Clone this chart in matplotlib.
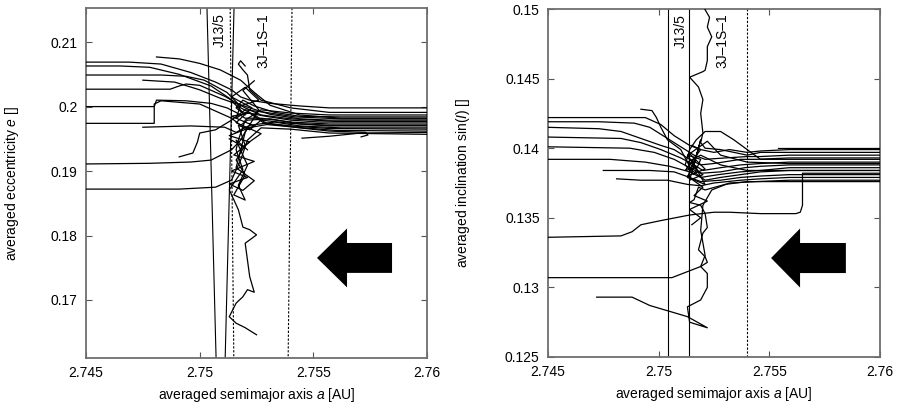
import matplotlib
matplotlib.use("Agg")
import matplotlib.pyplot as plt
import numpy as np

plt.rcParams["font.family"] = ["Liberation Sans", "DejaVu Sans"]
plt.rcParams["font.size"] = 10
plt.rcParams["mathtext.fontset"] = "custom"
plt.rcParams["mathtext.it"] = "Liberation Sans:italic"
plt.rcParams["mathtext.rm"] = "Liberation Sans"

# ---- left panel: averaged a vs averaged e (each track listed right -> left)
ecc_01 = [(2.7600, 0.1998), (2.7557, 0.1998), (2.7544, 0.2001), (2.7531, 0.2005),
          (2.7522, 0.2010), (2.7518, 0.2015), (2.7514, 0.2026), (2.7507, 0.2038),
          (2.7496, 0.2053), (2.7483, 0.2066), (2.7469, 0.2069), (2.7450, 0.2069)]
ecc_02 = [(2.7600, 0.1984), (2.7562, 0.1984), (2.7544, 0.1985), (2.7533, 0.1991),
          (2.7524, 0.2001), (2.7519, 0.2010), (2.7516, 0.1998), (2.7520, 0.1987),
          (2.7513, 0.2013), (2.7505, 0.2032), (2.7491, 0.2050), (2.7478, 0.2061),
          (2.7465, 0.2063), (2.7450, 0.2063)]
ecc_03 = [(2.7600, 0.1979), (2.7557, 0.1979), (2.7544, 0.1981), (2.7531, 0.1988),
          (2.7522, 0.1998), (2.7517, 0.2004), (2.7512, 0.2022), (2.7502, 0.2041),
          (2.7494, 0.2047), (2.7483, 0.2049), (2.7450, 0.2049)]
ecc_04 = [(2.7600, 0.1976), (2.7553, 0.1976), (2.7540, 0.1979), (2.7529, 0.1985),
          (2.7520, 0.1991), (2.7516, 0.1982), (2.7518, 0.2002), (2.7511, 0.2016),
          (2.7500, 0.2033), (2.7494, 0.2035), (2.7491, 0.2032), (2.7487, 0.2027),
          (2.7450, 0.2027)]
ecc_05 = [(2.7600, 0.1973), (2.7557, 0.1973), (2.7540, 0.1976), (2.7527, 0.1982),
          (2.7520, 0.1982), (2.7516, 0.1991), (2.7512, 0.1998), (2.7505, 0.2005),
          (2.7494, 0.2009), (2.7481, 0.2010), (2.7480, 0.2000), (2.7450, 0.2000)]
ecc_06 = [(2.7600, 0.1970), (2.7557, 0.1970), (2.7544, 0.1973), (2.7531, 0.1981),
          (2.7521, 0.1979), (2.7518, 0.1971), (2.7514, 0.1982), (2.7500, 0.2004),
          (2.7483, 0.2009), (2.7480, 0.2004), (2.7480, 0.1974), (2.7465, 0.1974),
          (2.7450, 0.1974)]
ecc_07 = [(2.7600, 0.1967), (2.7562, 0.1967), (2.7544, 0.1970), (2.7533, 0.1976),
          (2.7522, 0.1971), (2.7516, 0.1960), (2.7511, 0.1968), (2.7496, 0.1970),
          (2.7475, 0.1968)]
ecc_08 = [(2.7571, 0.1953), (2.7574, 0.1956), (2.7573, 0.1960), (2.7557, 0.1962),
          (2.7544, 0.1967), (2.7531, 0.1973), (2.7521, 0.1967), (2.7518, 0.1948),
          (2.7514, 0.1933), (2.7505, 0.1917), (2.7496, 0.1914), (2.7478, 0.1912),
          (2.7450, 0.1911)]
ecc_09 = [(2.7600, 0.1960), (2.7571, 0.1959), (2.7557, 0.1954), (2.7545, 0.1951)]
ecc_10 = [(2.7600, 0.1957), (2.7557, 0.1959), (2.7540, 0.1965), (2.7527, 0.1967),
          (2.7521, 0.1948), (2.7518, 0.1917), (2.7514, 0.1886), (2.7507, 0.1875),
          (2.7491, 0.1872), (2.7450, 0.1872)]
ecc_11 = [(2.7600, 0.1987), (2.7557, 0.1987), (2.7540, 0.1990), (2.7527, 0.1995),
          (2.7520, 0.1979), (2.7517, 0.1948), (2.7516, 0.1933), (2.7519, 0.1902),
          (2.7513, 0.1871), (2.7517, 0.1840), (2.7519, 0.1813), (2.7522, 0.1809),
          (2.7525, 0.1801), (2.7520, 0.1788), (2.7521, 0.1762), (2.7522, 0.1736),
          (2.7524, 0.1712), (2.7521, 0.1716), (2.7519, 0.1705), (2.7516, 0.1695),
          (2.7513, 0.1674), (2.7516, 0.1664), (2.7520, 0.1657), (2.7525, 0.1646)]
ecc_12 = [(2.7600, 0.1982), (2.7562, 0.1982), (2.7544, 0.1987), (2.7531, 0.2002),
          (2.7524, 0.2022), (2.7518, 0.2041), (2.7509, 0.2057), (2.7500, 0.2067),
          (2.7491, 0.2074), (2.7481, 0.2077)]
ecc_13 = [(2.7600, 0.1991), (2.7557, 0.1991), (2.7540, 0.1998), (2.7527, 0.2010),
          (2.7522, 0.2026), (2.7521, 0.2049), (2.7519, 0.2057), (2.7517, 0.2066),
          (2.7518, 0.2071), (2.7520, 0.2063)]
ecc_14 = [(2.7600, 0.1981), (2.7562, 0.1981), (2.7542, 0.1984), (2.7529, 0.1991),
          (2.7520, 0.1995), (2.7514, 0.1979), (2.7507, 0.1964), (2.7500, 0.1959),
          (2.7499, 0.1945), (2.7497, 0.1928), (2.7491, 0.1922)]
ecc_15 = [(2.7600, 0.1977), (2.7560, 0.1977), (2.7540, 0.1981), (2.7527, 0.1987),
          (2.7520, 0.1998), (2.7518, 0.2002), (2.7509, 0.2013), (2.7500, 0.2026),
          (2.7489, 0.2038), (2.7475, 0.2041)]
ecc_16 = [(2.7600, 0.1971), (2.7557, 0.1971), (2.7540, 0.1974), (2.7527, 0.1979),
          (2.7522, 0.1964), (2.7517, 0.1971), (2.7520, 0.1940), (2.7516, 0.1917),
          (2.7520, 0.1894), (2.7515, 0.1863), (2.7520, 0.1855), (2.7517, 0.1878),
          (2.7521, 0.1909), (2.7516, 0.1948), (2.7521, 0.1933)]
ecc_17 = [(2.7600, 0.1965), (2.7557, 0.1966), (2.7540, 0.1970), (2.7528, 0.1975),
          (2.7522, 0.1990), (2.7514, 0.1985), (2.7524, 0.1970), (2.7513, 0.1955),
          (2.7522, 0.1945), (2.7515, 0.1925), (2.7524, 0.1915), (2.7514, 0.1900),
          (2.7521, 0.1890), (2.7513, 0.1880), (2.7519, 0.1870), (2.7524, 0.1885),
          (2.7516, 0.1905), (2.7520, 0.1960), (2.7526, 0.1995), (2.7519, 0.2025),
          (2.7524, 0.2040)]
ecc_18 = [(2.7600, 0.1962), (2.7560, 0.1963), (2.7542, 0.1968), (2.7530, 0.1972),
          (2.7525, 0.1985), (2.7517, 0.2000), (2.7526, 0.2010), (2.7520, 0.2030),
          (2.7514, 0.2015), (2.7523, 0.1998), (2.7516, 0.1975), (2.7527, 0.1958),
          (2.7519, 0.1938), (2.7513, 0.1950)]

# ---- right panel: averaged a vs averaged sin(I)
inc_01 = [(2.7600, 0.1399), (2.7559, 0.1399), (2.7546, 0.1398), (2.7540, 0.1397),
          (2.7532, 0.1399), (2.7525, 0.1397), (2.7519, 0.1399), (2.7514, 0.1402),
          (2.7507, 0.1409), (2.7501, 0.1417), (2.7494, 0.1422), (2.7483, 0.1422),
          (2.7450, 0.1422)]
inc_02 = [(2.7600, 0.1395), (2.7559, 0.1395), (2.7546, 0.1394), (2.7540, 0.1394),
          (2.7530, 0.1393), (2.7521, 0.1392), (2.7516, 0.1395), (2.7512, 0.1399),
          (2.7504, 0.1407), (2.7496, 0.1415), (2.7489, 0.1418), (2.7473, 0.1419),
          (2.7450, 0.1419)]
inc_03 = [(2.7600, 0.1393), (2.7559, 0.1393), (2.7544, 0.1392), (2.7537, 0.1392),
          (2.7525, 0.1389), (2.7519, 0.1388), (2.7514, 0.1392), (2.7507, 0.1399),
          (2.7501, 0.1402), (2.7492, 0.1407), (2.7483, 0.1412), (2.7473, 0.1414),
          (2.7450, 0.1415)]
inc_04 = [(2.7600, 0.1390), (2.7559, 0.1390), (2.7546, 0.1389), (2.7537, 0.1388),
          (2.7528, 0.1386), (2.7520, 0.1384), (2.7516, 0.1388), (2.7510, 0.1393),
          (2.7501, 0.1399), (2.7492, 0.1404), (2.7483, 0.1407), (2.7450, 0.1408)]
inc_05 = [(2.7600, 0.1388), (2.7559, 0.1388), (2.7546, 0.1387), (2.7539, 0.1386),
          (2.7528, 0.1383), (2.7519, 0.1382), (2.7514, 0.1386), (2.7507, 0.1392),
          (2.7498, 0.1397), (2.7487, 0.1400), (2.7450, 0.1401)]
inc_06 = [(2.7600, 0.1386), (2.7559, 0.1386), (2.7546, 0.1384), (2.7537, 0.1383),
          (2.7527, 0.1381), (2.7519, 0.1379), (2.7514, 0.1383), (2.7505, 0.1387),
          (2.7494, 0.1390), (2.7478, 0.1392), (2.7450, 0.1392)]
inc_07 = [(2.7600, 0.1384), (2.7559, 0.1384), (2.7546, 0.1383), (2.7537, 0.1381),
          (2.7528, 0.1379), (2.7521, 0.1377), (2.7515, 0.1384), (2.7510, 0.1399),
          (2.7504, 0.1406), (2.7501, 0.1415), (2.7499, 0.1422), (2.7497, 0.1427),
          (2.7492, 0.1428)]
inc_08 = [(2.7600, 0.1381), (2.7559, 0.1381), (2.7546, 0.1380), (2.7537, 0.1379),
          (2.7528, 0.1377), (2.7519, 0.1376), (2.7514, 0.1379), (2.7507, 0.1383),
          (2.7496, 0.1384), (2.7483, 0.1384), (2.7475, 0.1384)]
inc_09 = [(2.7600, 0.1379), (2.7559, 0.1379), (2.7546, 0.1378), (2.7537, 0.1377),
          (2.7525, 0.1375), (2.7519, 0.1373), (2.7513, 0.1374), (2.7504, 0.1377),
          (2.7492, 0.1377), (2.7481, 0.1378)]
inc_10 = [(2.7600, 0.1382), (2.7565, 0.1382), (2.7565, 0.1359), (2.7564, 0.1354),
          (2.7562, 0.1353), (2.7546, 0.1353), (2.7532, 0.1354), (2.7525, 0.1354),
          (2.7514, 0.1352), (2.7501, 0.1348), (2.7492, 0.1345), (2.7488, 0.1340),
          (2.7483, 0.1337), (2.7450, 0.1336)]
inc_11 = [(2.7600, 0.1397), (2.7559, 0.1397), (2.7546, 0.1397), (2.7540, 0.1395),
          (2.7534, 0.1397), (2.7528, 0.1399), (2.7521, 0.1400), (2.7519, 0.1404),
          (2.7520, 0.1411), (2.7519, 0.1425), (2.7520, 0.1435), (2.7518, 0.1444),
          (2.7514, 0.1451), (2.7520, 0.1455), (2.7521, 0.1456), (2.7522, 0.1463),
          (2.7522, 0.1473), (2.7524, 0.1480), (2.7522, 0.1487), (2.7523, 0.1494),
          (2.7519, 0.1505)]
inc_12 = [(2.7600, 0.1376), (2.7559, 0.1376), (2.7546, 0.1376), (2.7540, 0.1376),
          (2.7530, 0.1374), (2.7521, 0.1370), (2.7518, 0.1372), (2.7516, 0.1363),
          (2.7514, 0.1361), (2.7519, 0.1359), (2.7521, 0.1353), (2.7522, 0.1343),
          (2.7520, 0.1339), (2.7518, 0.1327), (2.7521, 0.1322), (2.7522, 0.1318),
          (2.7519, 0.1315), (2.7522, 0.1310), (2.7522, 0.1300), (2.7519, 0.1291),
          (2.7513, 0.1286), (2.7514, 0.1275), (2.7522, 0.1271), (2.7513, 0.1279),
          (2.7496, 0.1287), (2.7488, 0.1293), (2.7472, 0.1293)]
inc_13 = [(2.7600, 0.1377), (2.7559, 0.1377), (2.7544, 0.1376), (2.7532, 0.1375),
          (2.7524, 0.1370), (2.7520, 0.1359), (2.7519, 0.1341), (2.7521, 0.1323),
          (2.7519, 0.1315), (2.7506, 0.1307), (2.7496, 0.1307), (2.7483, 0.1307),
          (2.7450, 0.1307)]
inc_14 = [(2.7600, 0.1392), (2.7559, 0.1392), (2.7546, 0.1392), (2.7540, 0.1399),
          (2.7534, 0.1406), (2.7528, 0.1412), (2.7521, 0.1412), (2.7517, 0.1406),
          (2.7514, 0.1399), (2.7512, 0.1388), (2.7516, 0.1381), (2.7519, 0.1392),
          (2.7513, 0.1395), (2.7517, 0.1386), (2.7512, 0.1384), (2.7519, 0.1399),
          (2.7515, 0.1402)]
inc_15 = [(2.7600, 0.1400), (2.7554, 0.1400)]
inc_16 = [(2.7600, 0.1384), (2.7559, 0.1384), (2.7540, 0.1384), (2.7528, 0.1388),
          (2.7519, 0.1395), (2.7513, 0.1390), (2.7520, 0.1381), (2.7514, 0.1377),
          (2.7519, 0.1406), (2.7516, 0.1388), (2.7521, 0.1374), (2.7513, 0.1379),
          (2.7518, 0.1399)]
inc_17 = [(2.7600, 0.1389), (2.7559, 0.1389), (2.7540, 0.1390), (2.7528, 0.1395),
          (2.7522, 0.1405), (2.7514, 0.1396), (2.7521, 0.1385), (2.7513, 0.1380),
          (2.7520, 0.1372), (2.7516, 0.1366), (2.7522, 0.1362), (2.7514, 0.1356),
          (2.7519, 0.1350), (2.7515, 0.1345)]

# resonance locations (a at top / bottom of each panel)
ecc_res_solid = [(2.75032, 2.75072), (2.75151, 2.75112)]
ecc_res_dotted = [(2.75134, 2.75150), (2.75406, 2.75389)]
inc_res_solid = [2.75042, 2.75137]
inc_res_dotted = [2.7540]
res_names = ["J13/5", "3J\u20131S\u20131"]

ecc_tracks = [ecc_01, ecc_02, ecc_03, ecc_04, ecc_05, ecc_06, ecc_07, ecc_08, ecc_09,
              ecc_10, ecc_11, ecc_12, ecc_13, ecc_14, ecc_15, ecc_16, ecc_17, ecc_18]
inc_tracks = [inc_01, inc_02, inc_03, inc_04, inc_05, inc_06, inc_07, inc_08, inc_09,
              inc_10, inc_11, inc_12, inc_13, inc_14, inc_15, inc_16, inc_17]


def style_axes(ax, ylim, yticks, ylabel, ylabel_x):
    ax.set_xlim(2.745, 2.76)
    ax.set_ylim(*ylim)
    ax.set_xticks([2.745, 2.75, 2.755, 2.76])
    ax.set_xticklabels(["2.745", "2.75", "2.755", "2.76"])
    ax.set_yticks(yticks)
    ax.set_yticklabels([f"{t:g}" for t in yticks])
    ax.tick_params(direction="in", length=4, width=0.8, color="#555555",
                   top=True, right=True, pad=6, labelsize=10)
    for sp in ax.spines.values():
        sp.set_color("#6e6e6e")
        sp.set_linewidth(1.3)
    ax.set_xlabel("averaged semimajor axis $a$ [AU]", fontsize=10)
    ax.xaxis.set_label_coords(0.5, -0.08)
    ax.set_ylabel(ylabel, fontsize=10)
    ax.yaxis.set_label_coords(ylabel_x, 0.5)


fig = plt.figure(figsize=(8.97, 4.11), dpi=100)
ax1 = fig.add_axes([0.0959, 0.129, 0.3802, 0.8516])
ax2 = fig.add_axes([0.6109, 0.1314, 0.3701, 0.8467])

# left panel
ylim1 = (0.161, 0.2153)
for tr in ecc_tracks:
    a, e = np.array(tr).T
    ax1.plot(a, e, color="black", lw=0.9, zorder=3)
for xt, xb in ecc_res_solid:
    ax1.plot([xt, xb], [ylim1[1], ylim1[0]], color="black", lw=0.8, zorder=2)
for xt, xb in ecc_res_dotted:
    ax1.plot([xt, xb], [ylim1[1], ylim1[0]], color="black", lw=0.8,
             ls=(0, (2, 1.5)), zorder=2)
for x, name in zip([2.7509, 2.7528], res_names):
    ax1.text(x, 0.9855, name, transform=ax1.get_xaxis_transform(),
             rotation=90, ha="center", va="top", fontsize=10)
ax1.arrow(2.75846, 0.17652, -0.0033, 0, width=0.00464, head_width=0.00914,
          head_length=0.00132, length_includes_head=True, color="black", lw=0,
          zorder=4)
style_axes(ax1, ylim1, [0.17, 0.18, 0.19, 0.2, 0.21],
           "averaged eccentricity $e$ []", -0.19)

# right panel
ylim2 = (0.125, 0.15)
for tr in inc_tracks:
    a, s = np.array(tr).T
    ax2.plot(a, s, color="black", lw=0.9, zorder=3)
for x in inc_res_solid:
    ax2.axvline(x, color="black", lw=0.8, zorder=2)
for x in inc_res_dotted:
    ax2.axvline(x, color="black", lw=0.8, ls=(0, (2, 1.5)), zorder=2)
for x, name in zip([2.7510, 2.7529], res_names):
    ax2.text(x, 0.986, name, transform=ax2.get_xaxis_transform(),
             rotation=90, ha="center", va="top", fontsize=10)
ax2.arrow(2.75846, 0.13211, -0.00338, 0, width=0.00216, head_width=0.00424,
          head_length=0.00131, length_includes_head=True, color="black", lw=0,
          zorder=4)
style_axes(ax2, ylim2, [0.125, 0.13, 0.135, 0.14, 0.145, 0.15],
           "averaged inclination sin($I$) []", -0.229)

fig.savefig("out.png", dpi=100)
